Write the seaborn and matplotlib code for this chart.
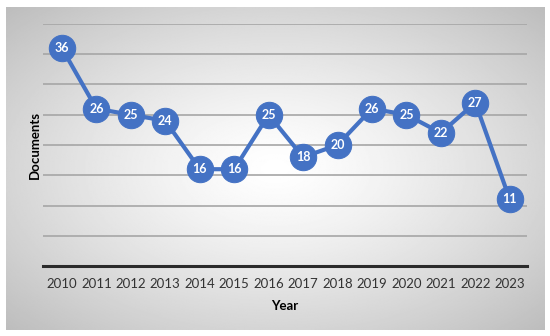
import numpy as np
import pandas as pd
import matplotlib
matplotlib.use('Agg')
import matplotlib.pyplot as plt
import seaborn as sns

# Chart data
years = [2010, 2011, 2012, 2013, 2014, 2015, 2016, 2017, 2018, 2019, 2020, 2021, 2022, 2023]
documents = [36, 26, 25, 24, 16, 16, 25, 18, 20, 26, 25, 22, 27, 11]
y_ticks = [0, 5, 10, 15, 20, 25, 30, 35, 40]

df = pd.DataFrame({'Year': years, 'Documents': documents})

plt.rcParams['font.family'] = ['Lato', 'DejaVu Sans']
blue = '#4472C4'

fig = plt.figure(figsize=(5.5, 3.36), dpi=100)
fig.patch.set_facecolor('white')

# Radial gradient background panel
bg = fig.add_axes([6 / 550, 6 / 336, 539 / 550, 323 / 336], zorder=0)
gx, gy = np.meshgrid(np.linspace(-1, 1, 400), np.linspace(-1, 1, 300))
r = np.sqrt(gx ** 2 + gy ** 2) / np.sqrt(2)
shade = 1 - 0.26 * r ** 1.3
bg.imshow(shade, cmap='gray', vmin=0, vmax=1, aspect='auto', extent=[0, 1, 0, 1])
bg.axis('off')

# Main plot
ax = fig.add_axes([43 / 550, 70 / 336, 484 / 550, 242 / 336], zorder=1)
ax.set_facecolor('none')
sns.lineplot(data=df, x='Year', y='Documents', ax=ax, color=blue, linewidth=3,
             marker='o', markersize=19, markeredgecolor=blue, markerfacecolor=blue,
             zorder=3)

for yr, val in zip(years, documents):
    ax.text(yr, val, str(val), ha='center', va='center', color='white',
            fontsize=9, fontweight='bold', zorder=4)

ax.set_xlim(2009.45, 2023.5)
ax.set_ylim(0, 40)
ax.set_yticks(y_ticks)
ax.set_yticklabels([])
ax.set_xticks(years)
ax.set_xticklabels([str(y) for y in years], fontsize=9.5, color='#333333')
ax.tick_params(length=0, pad=9)
ax.yaxis.grid(True, color='#a6a6a6', linewidth=1.2)
ax.set_axisbelow(True)
for side in ['top', 'right', 'left']:
    ax.spines[side].set_visible(False)
ax.spines['bottom'].set_color('#2b2b2b')
ax.spines['bottom'].set_linewidth(2.2)
for line in ax.lines:
    line.set_clip_on(False)

ax.set_xlabel('Year', fontsize=9.5, fontweight='bold', labelpad=7)
ax.set_ylabel('Documents', fontsize=9.5, fontweight='bold')
ax.yaxis.set_label_coords(-0.005, 0.5)

fig.savefig('out.png', dpi=100)
